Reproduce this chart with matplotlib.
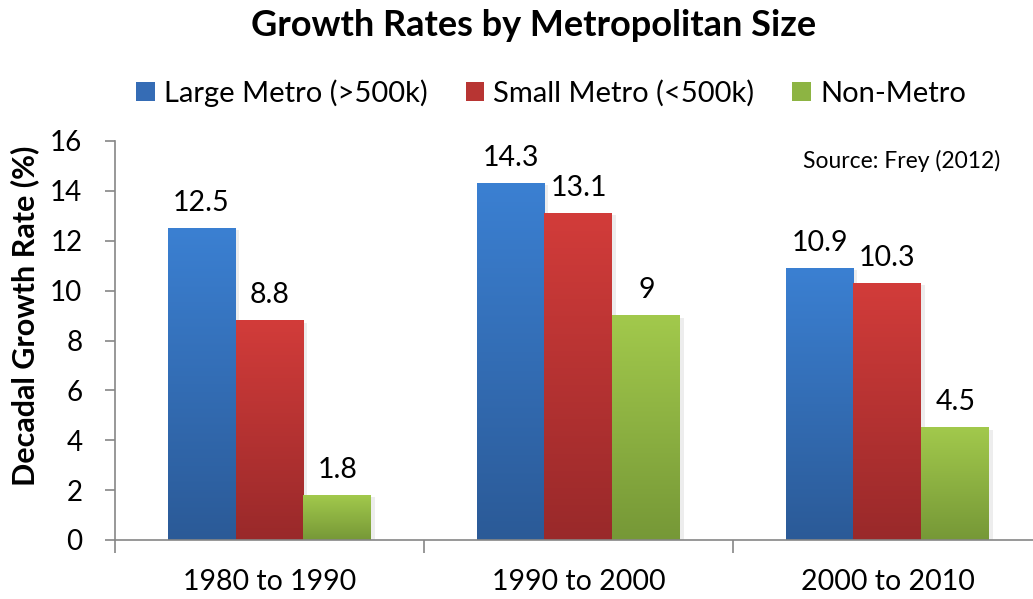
import matplotlib
matplotlib.use("Agg")
import matplotlib.pyplot as plt
import numpy as np
from matplotlib.colors import LinearSegmentedColormap
from matplotlib.patches import Rectangle

periods = ["1980 to 1990", "1990 to 2000", "2000 to 2010"]
series_names = ["Large Metro (>500k)", "Small Metro (<500k)", "Non-Metro"]
large_metro = [12.5, 14.3, 10.9]
small_metro = [8.8, 13.1, 10.3]
non_metro = [1.8, 9.0, 4.5]
value_labels = [["12.5", "14.3", "10.9"], ["8.8", "13.1", "10.3"], ["1.8", "9", "4.5"]]

top_colors = ["#3b80d2", "#d23c3a", "#a2c94c"]
bottom_colors = ["#2b5a97", "#99292a", "#769837"]
mid_colors = ["#356cb5", "#b83533", "#8db443"]

plt.rcParams['font.family'] = ['Lato', 'DejaVu Sans']

fig = plt.figure(figsize=(10.33, 5.99), dpi=100)
ax = fig.add_axes([115/1033, 59/599, (1033-115)/1033, (540-141)/599])

x = np.arange(len(periods))
w = 0.22
data = [large_metro, small_metro, non_metro]
grad = np.linspace(1, 0, 256).reshape(-1, 1)
for i, vals in enumerate(data):
    bars = ax.bar(x + (i - 1) * w, vals, w, color='none', edgecolor='none',
                  label=series_names[i], zorder=2)
    cmap = LinearSegmentedColormap.from_list(f"g{i}", [bottom_colors[i], top_colors[i]])
    for b, lab in zip(bars, value_labels[i]):
        x0, y0 = b.get_x(), b.get_y()
        bw, bh = b.get_width(), b.get_height()
        ax.add_patch(Rectangle((x0 + 0.012, y0), bw, bh - 0.08, facecolor='#000000',
                               alpha=0.07, edgecolor='none', zorder=1))
        ax.imshow(grad, extent=(x0, x0 + bw, y0, y0 + bh), cmap=cmap, aspect='auto',
                  zorder=2, interpolation='bicubic')
        ax.annotate(lab, (x0 + bw / 2, y0 + bh), xytext=(0, 9), textcoords='offset points',
                    ha='center', va='bottom', fontsize=20.5, color='black')

ax.set_xlim(-0.5, 2.471)
ax.set_ylim(0, 16)
ax.set_yticks(np.arange(0, 17, 2))
ax.tick_params(axis='y', direction='out', length=7.5, width=1.2, color='#868686',
               labelsize=20, pad=16)
ax.set_xticks([-0.5, 0.5, 1.5], minor=False)
ax.set_xticklabels([])
ax.set_xticks(x, minor=True)
ax.set_xticklabels(periods, minor=True, fontsize=20.5)
ax.tick_params(axis='x', which='major', direction='out', length=9, width=1.2, color='#868686')
ax.tick_params(axis='x', which='minor', length=0, pad=21)
for s in ['top', 'right']:
    ax.spines[s].set_visible(False)
for s in ['left', 'bottom']:
    ax.spines[s].set_color('#868686')
    ax.spines[s].set_linewidth(1.2)

fig.text(25/1033, 1 - 316/599, "Decadal Growth Rate (%)", rotation=90, ha='center',
         va='center', fontsize=22, fontweight='bold')
ax.text((1000-115)/918, (540-161)/399, "Source: Frey (2012)", transform=ax.transAxes,
        ha='right', va='center', fontsize=16.5)

handles = [Rectangle((0, 0), 1, 1, facecolor=c) for c in mid_colors]
fig.legend(handles, series_names, loc='center', bbox_to_anchor=(551/1033, 1 - 93/599), ncol=3,
           frameon=False, fontsize=21, handlelength=0.65, handleheight=0.65,
           handletextpad=0.3, columnspacing=1.3)
fig.text(534/1033, 1 - 26/599, "Growth Rates by Metropolitan Size", ha='center', va='center',
         fontsize=26, fontweight='bold')

fig.savefig("out.png", dpi=100)
